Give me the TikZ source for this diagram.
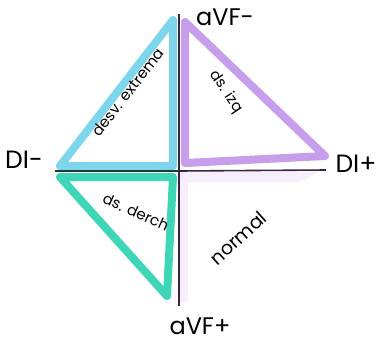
\documentclass[tikz,border=0pt]{standalone}
\usepackage{fontspec}
\setmainfont{Poppins}
\definecolor{cyanT}{RGB}{125,214,236}
\definecolor{purT}{RGB}{198,158,236}
\definecolor{grnT}{RGB}{62,214,182}
\definecolor{purFaint}{RGB}{246,238,251}
\definecolor{axisD}{RGB}{55,35,70}
\definecolor{axisG}{RGB}{30,60,50}
\begin{document}
\begin{tikzpicture}[x=1pt,y=-1pt,
  tri/.style={line width=8pt,line join=round,line cap=round},
  axisline/.style={line width=1.6pt},
  big/.style={font=\fontsize{25}{25}\selectfont},
  mid/.style={font=\fontsize{24}{24}\selectfont},
  small/.style={font=\fontsize{15}{15}\selectfont}]
\useasboundingbox (0,0) rectangle (391,349);
% faint purple shade
\fill[purFaint] (180,172) rectangle (188,302);
\fill[purFaint] (180,172) -- (318,172) -- (300,182) -- (180,182) -- cycle;
% triangles
\coordinate (ct) at (173,20);
\coordinate (cl) at (60,166);
\coordinate (cr) at (173,166);
\draw[tri,cyanT] (ct) -- (cl) -- (cr) -- cycle;
\coordinate (pt) at (185,22);
\coordinate (pb) at (185,163);
\coordinate (pr) at (325,156);
\draw[tri,purT] (pt) -- (pb) -- (pr) -- cycle;
\coordinate (gl) at (60,177);
\coordinate (gr) at (173,177);
\coordinate (gb) at (167,296);
\draw[tri,grnT] (gl) -- (gr) -- (gb) -- cycle;
% axes
\coordinate (vt) at (179,14);
\coordinate (vb) at (179,306);
\coordinate (hl) at (55,171);
\coordinate (hc) at (179,171);
\coordinate (hr) at (326,170);
\draw[axisline,axisD] (vt) -- (vb);
\draw[axisline,axisG] (hl) -- (hc);
\draw[axisline,axisD] (hc) -- (hr);
% labels
\node[mid] (avfm) at (225,17) {aVF-};
\node[big] (dip) at (356,164) {DI+};
\node[big] (dim) at (24,160) {DI-};
\node[mid] (avfp) at (200,326) {aVF+};
\node[small,rotate=52] (ext) at (128,92) {desv. extrema};
\node[small,rotate=-56] (izq) at (226,92) {ds. izq};
\node[small,rotate=-24] (der) at (136,212) {ds. derch};
\node[font=\fontsize{19}{19}\selectfont,rotate=42] (nor) at (238,238) {normal};
\end{tikzpicture}
\end{document}
